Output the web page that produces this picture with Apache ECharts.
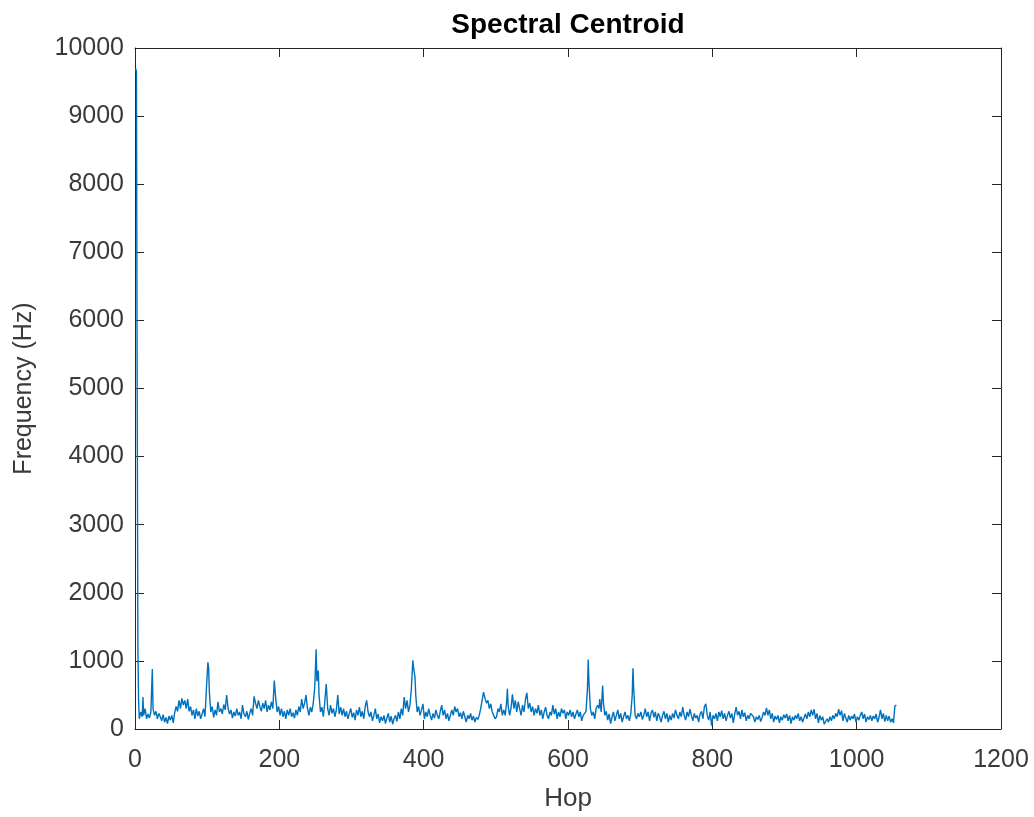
<!DOCTYPE html>
<html>
<head>
<meta charset="utf-8">
<script src="https://cdn.jsdelivr.net/npm/echarts@6/dist/echarts.min.js"></script>
<style>html,body{margin:0;padding:0;background:#fff}#c{width:1034px;height:817px}</style>
</head>
<body>
<div id="c"></div>
<script>
const titleText = "Spectral Centroid";
const xName = "Hop";
const yName = "Frequency (Hz)";
const xTicks = [0, 200, 400, 600, 800, 1000, 1200];
const yTicks = [0, 1000, 2000, 3000, 4000, 5000, 6000, 7000, 8000, 9000, 10000];
// [hop, centroid Hz]
const centroid = [[1,9700],[2,9650],[3,5000],[4,1200],[5,400],[6,150],[8,250],[10,180],[11,470],[12,200],[14,300],[16,150],[18,220],[20,160],[22,250],[24,880],[25,300],[27,200],[29,260],[31,150],[33,230],[35,180],[37,120],[39,210],[41,100],[43,170],[45,80],[47,190],[49,130],[51,200],[53,90],[55,240],[57,330],[59,260],[61,420],[63,300],[65,450],[67,350],[69,420],[71,300],[73,440],[75,260],[77,330],[79,200],[81,280],[83,150],[85,300],[87,190],[89,260],[91,150],[93,220],[95,300],[97,180],[99,600],[101,980],[102,900],[103,550],[105,250],[107,330],[109,170],[111,280],[113,200],[115,400],[117,250],[119,300],[121,220],[123,360],[125,280],[127,500],[129,300],[131,220],[133,280],[135,160],[137,250],[139,190],[141,300],[143,200],[145,250],[147,150],[149,350],[151,220],[153,180],[155,260],[157,140],[159,230],[161,300],[163,200],[165,480],[167,380],[169,300],[171,420],[173,330],[175,260],[177,380],[179,300],[181,420],[183,250],[185,350],[187,280],[189,400],[191,300],[193,710],[195,450],[197,250],[199,330],[201,200],[203,300],[205,180],[207,260],[209,150],[211,280],[213,200],[215,300],[217,180],[219,240],[221,160],[223,280],[225,200],[227,330],[229,250],[231,440],[233,300],[235,380],[237,500],[239,300],[241,200],[243,320],[245,250],[247,380],[249,600],[251,1170],[252,700],[254,860],[255,500],[257,250],[259,320],[261,180],[263,400],[265,660],[267,300],[269,200],[271,350],[273,230],[275,300],[277,180],[279,280],[281,500],[283,220],[285,320],[287,200],[289,300],[291,180],[293,260],[295,150],[297,230],[299,300],[301,170],[303,240],[305,130],[307,280],[309,200],[311,320],[313,180],[315,260],[317,150],[319,330],[321,420],[323,250],[325,180],[327,250],[329,120],[331,200],[333,300],[335,150],[337,220],[339,90],[341,180],[343,120],[345,200],[347,80],[349,160],[351,230],[353,100],[355,190],[357,70],[359,150],[361,200],[363,110],[365,250],[367,150],[369,300],[371,200],[373,470],[375,300],[377,420],[379,250],[381,350],[383,600],[385,1010],[386,900],[388,760],[389,500],[391,250],[393,330],[395,200],[397,280],[399,370],[401,150],[403,250],[405,180],[407,300],[409,200],[411,130],[413,230],[415,160],[417,280],[419,200],[421,150],[423,260],[425,350],[427,200],[429,280],[431,150],[433,230],[435,120],[437,200],[439,280],[441,200],[443,330],[445,250],[447,300],[449,180],[451,240],[453,150],[455,260],[457,180],[459,100],[461,200],[463,150],[465,230],[467,130],[469,190],[471,100],[473,170],[475,140],[477,200],[479,300],[481,420],[483,540],[485,450],[487,380],[489,420],[491,300],[493,370],[495,250],[497,200],[499,150],[501,180],[503,300],[505,250],[507,370],[509,200],[511,280],[513,200],[515,400],[516,590],[517,350],[519,200],[521,300],[523,510],[525,300],[527,420],[529,250],[531,400],[533,300],[535,200],[537,350],[539,250],[541,430],[543,530],[545,300],[547,380],[549,250],[551,330],[553,200],[555,300],[557,230],[559,350],[561,200],[563,280],[565,150],[567,250],[569,320],[571,200],[573,150],[575,250],[577,200],[579,350],[581,220],[583,300],[585,150],[587,250],[589,180],[591,300],[593,230],[595,280],[597,150],[599,250],[601,200],[603,280],[605,180],[607,250],[609,150],[611,220],[613,280],[615,180],[617,250],[619,120],[621,200],[623,180],[625,260],[627,600],[628,1020],[629,700],[631,300],[633,200],[635,250],[637,150],[639,300],[641,350],[643,300],[644,440],[646,250],[648,640],[649,400],[651,200],[653,260],[655,130],[657,220],[659,80],[661,180],[663,250],[665,120],[667,200],[669,280],[671,150],[673,230],[675,100],[677,180],[679,250],[681,150],[683,200],[685,120],[687,220],[689,500],[690,890],[691,600],[693,200],[695,150],[697,230],[699,180],[701,250],[703,140],[705,200],[707,300],[709,180],[711,250],[713,120],[715,230],[717,280],[719,170],[721,250],[723,120],[725,230],[727,180],[729,100],[731,200],[733,260],[735,150],[737,230],[739,100],[741,200],[743,130],[745,230],[747,160],[749,280],[751,200],[753,150],[755,250],[757,180],[759,320],[761,200],[763,130],[765,250],[767,180],[769,290],[771,200],[773,120],[775,230],[777,160],[779,200],[781,100],[783,220],[785,260],[787,150],[789,330],[791,370],[793,200],[795,130],[797,250],[799,50],[801,200],[803,150],[805,230],[807,120],[809,250],[811,180],[813,270],[815,150],[817,230],[819,120],[821,200],[823,260],[825,160],[827,230],[829,90],[831,220],[833,320],[835,200],[837,260],[839,150],[841,280],[843,180],[845,240],[847,120],[849,200],[851,150],[853,230],[855,250],[857,180],[859,100],[861,180],[863,140],[865,200],[867,110],[869,170],[871,250],[873,200],[875,310],[877,200],[879,280],[881,150],[883,230],[885,100],[887,190],[889,140],[891,200],[893,90],[895,180],[897,130],[899,210],[901,160],[903,220],[905,120],[907,200],[909,80],[911,180],[913,130],[915,200],[917,150],[919,230],[921,120],[923,180],[925,100],[927,160],[929,220],[931,150],[933,250],[935,180],[937,280],[939,200],[941,290],[943,150],[945,230],[947,90],[949,200],[951,130],[953,180],[955,70],[957,60],[959,150],[961,100],[963,180],[965,120],[967,200],[969,150],[971,230],[973,180],[975,290],[977,200],[979,270],[981,120],[983,230],[985,160],[987,100],[989,200],[991,130],[993,190],[995,150],[997,220],[999,100],[1001,180],[1003,130],[1005,200],[1007,250],[1009,150],[1011,220],[1013,100],[1015,180],[1017,140],[1019,200],[1021,120],[1023,190],[1025,150],[1027,220],[1029,100],[1031,170],[1033,280],[1035,150],[1037,230],[1039,110],[1041,200],[1043,120],[1045,190],[1047,100],[1049,150],[1051,90],[1053,340],[1055,350]];

const FONT = "'Liberation Sans', Arial, Helvetica, sans-serif";
const AX = '#262626';
const LBL = '#3a3a3a';
const chart = echarts.init(document.getElementById('c'), null, {renderer: 'canvas'});
const xStep = xTicks[1] - xTicks[0];
const yStep = yTicks[1] - yTicks[0];
const plain = v => String(v);
function xAx(pos, labels) {
  return {
    type: 'value', position: pos, min: xTicks[0], max: xTicks[xTicks.length - 1], interval: xStep,
    name: labels ? xName : '', nameLocation: 'middle', nameGap: 57,
    nameTextStyle: {fontFamily: FONT, fontSize: 26, color: LBL},
    axisLine: {show: true, onZero: false, lineStyle: {color: AX, width: 1}},
    axisTick: {show: true, inside: true, length: 9, lineStyle: {color: AX}},
    axisLabel: {show: labels, margin: 19, fontFamily: FONT, fontSize: 25, color: LBL, formatter: plain},
    splitLine: {show: false}
  };
}
function yAx(pos, labels) {
  return {
    type: 'value', position: pos, min: yTicks[0], max: yTicks[yTicks.length - 1], interval: yStep,
    name: labels ? yName : '', nameLocation: 'middle', nameGap: 98,
    nameTextStyle: {fontFamily: FONT, fontSize: 25, color: LBL},
    axisLine: {show: true, onZero: false, lineStyle: {color: AX, width: 1}},
    axisTick: {show: true, inside: true, length: 9, lineStyle: {color: AX}},
    axisLabel: {show: labels, margin: 11, fontFamily: FONT, fontSize: 25, color: LBL, formatter: plain,
      padding: [8, 0, 0, 0]},
    splitLine: {show: false}
  };
}
chart.setOption({
  animation: false,
  backgroundColor: '#fff',
  title: {text: titleText, left: 563, top: 6, textAlign: 'center',
    textStyle: {fontFamily: FONT, fontSize: 28, fontWeight: 'bold', color: '#000'}},
  grid: {left: 135, right: 33, top: 48, bottom: 85, containLabel: false},
  xAxis: [xAx('bottom', true), xAx('top', false)],
  yAxis: [yAx('left', true), yAx('right', false)],
  series: [{
    type: 'line', data: centroid, showSymbol: false, symbol: 'none',
    lineStyle: {color: '#0072BD', width: 1.4}, itemStyle: {color: '#0072BD'},
    xAxisIndex: 0, yAxisIndex: 0
  }]
});
</script>
</body>
</html>
